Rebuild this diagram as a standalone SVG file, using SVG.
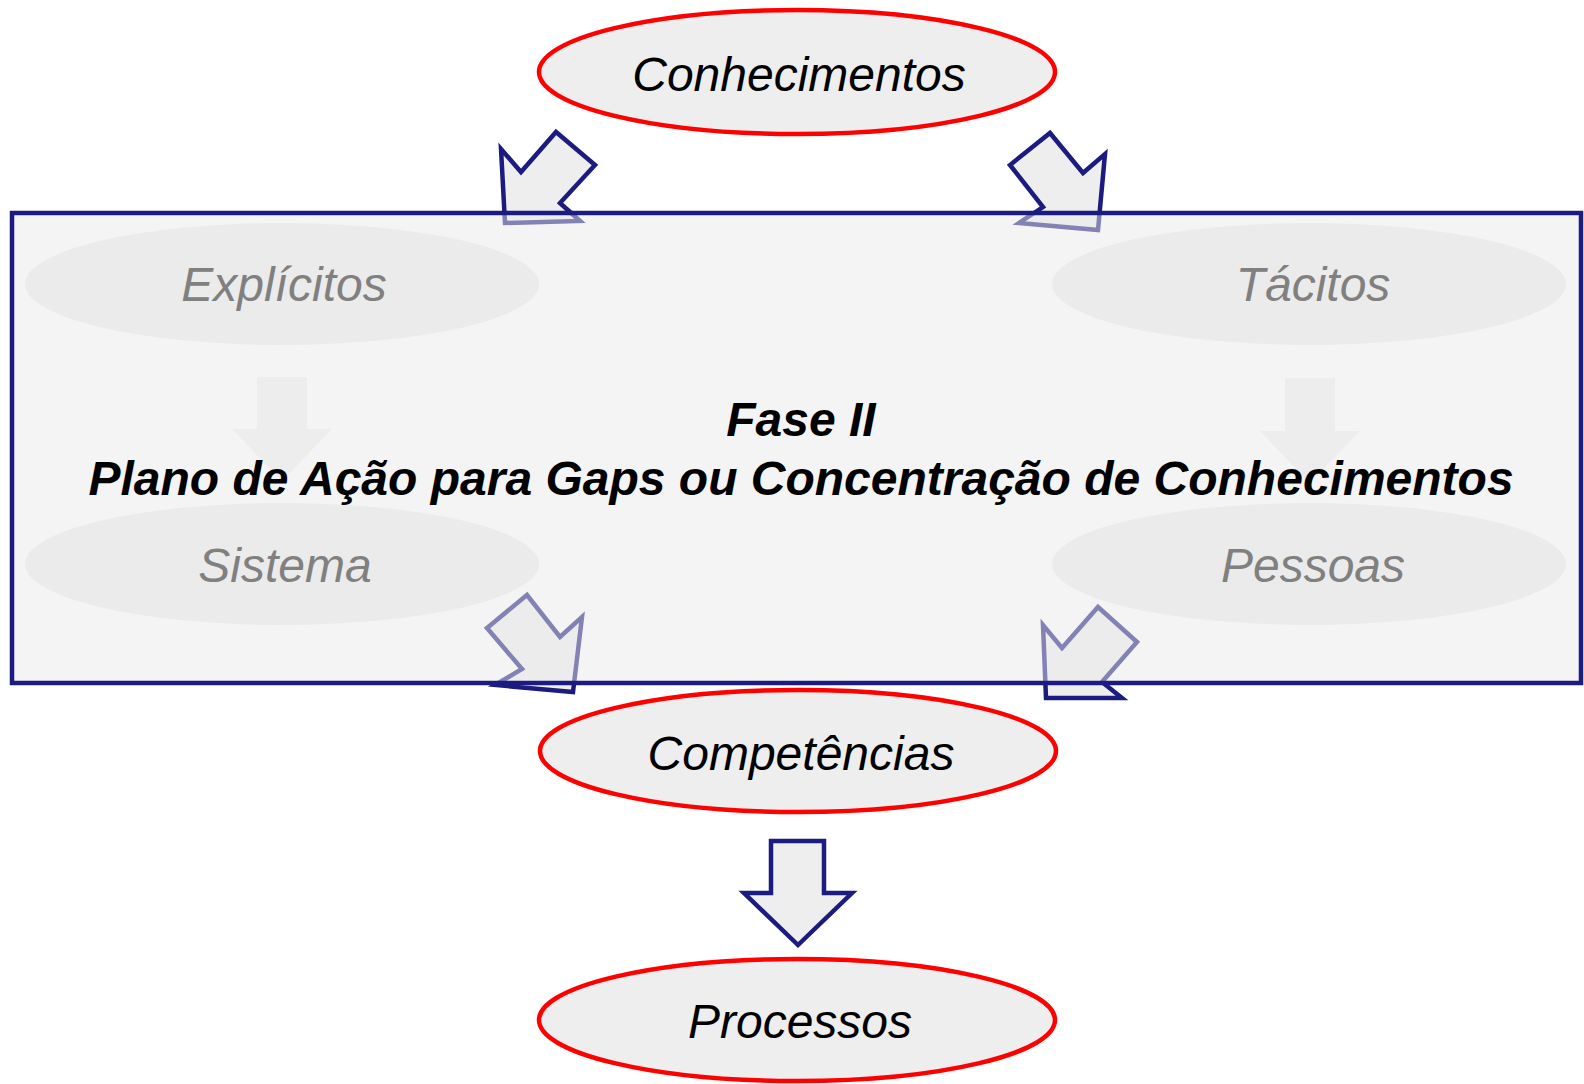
<svg xmlns="http://www.w3.org/2000/svg" width="1584" height="1084" viewBox="0 0 1584 1084">
<style>
.main{fill:#eeeeee;stroke:#ff0000;stroke-width:4.5}
.lbl{font-family:"Liberation Sans",Arial,sans-serif;font-style:italic;font-size:48px;text-anchor:middle;fill:#000}
.inner{fill:#ebebeb}
.ilbl{font-family:"Liberation Sans",Arial,sans-serif;font-style:italic;font-size:48px;text-anchor:middle;fill:#808080}
.arr{fill:#eeeeee;stroke:#1b1b80;stroke-width:4.5;stroke-linejoin:miter}
.farr{fill:#ededed}
.title{font-family:"Liberation Sans",Arial,sans-serif;font-style:italic;font-weight:bold;font-size:48px;text-anchor:middle;fill:#000}
</style>
<rect width="1584" height="1084" fill="#ffffff"/>
<g id="connectors">
<polygon class="arr" points="505,223 501,149 521,172 556,132 595,165 560,203 580,221"/>
<polygon class="arr" points="1098,230 1105,154 1083,173 1050,133 1010,165 1043,207 1019,223"/>
<polygon class="arr" points="573,692 582,617 560,637 527,595 487,628 522,669 495,685"/>
<polygon class="arr" points="1046,698 1043,625 1062,648 1098,607 1137,642 1102,682 1122,698"/>
</g>
<g id="box">
<rect x="12" y="213" width="1569" height="470" fill="#eaeaea" fill-opacity="0.5" stroke="#1b1b80" stroke-width="4.5"/>
</g>
<g id="inner-arrows">
<polygon class="farr" points="257,377 307,377 307,429 332,429 282,481 232,429 257,429"/>
<polygon class="farr" points="1285,378 1335,378 1335,431 1360,431 1310,483 1260,431 1285,431"/>
</g>
<g id="explicitos">
<ellipse class="inner" cx="282" cy="284" rx="257" ry="61"/>
<text class="ilbl" x="284" y="301">Explícitos</text>
</g>
<g id="tacitos">
<ellipse class="inner" cx="1309" cy="284" rx="257" ry="61"/>
<text class="ilbl" x="1313" y="301">Tácitos</text>
</g>
<g id="sistema">
<ellipse class="inner" cx="282" cy="564" rx="257" ry="61"/>
<text class="ilbl" x="285" y="582">Sistema</text>
</g>
<g id="pessoas">
<ellipse class="inner" cx="1309" cy="564" rx="257" ry="61"/>
<text class="ilbl" x="1313" y="582">Pessoas</text>
</g>
<g id="fase">
<text class="title" x="801" y="436">Fase II</text>
<text class="title" x="801" y="495">Plano de Ação para Gaps ou Concentração de Conhecimentos</text>
</g>
<g id="conhecimentos">
<ellipse class="main" cx="797" cy="72" rx="258" ry="62"/>
<text class="lbl" x="799" y="91">Conhecimentos</text>
</g>
<g id="competencias">
<ellipse class="main" cx="798" cy="751" rx="258" ry="61"/>
<text class="lbl" x="801" y="770">Competências</text>
</g>
<g id="down-arrow">
<polygon class="arr" points="771,841 824,841 824,893 852,893 798,945 744,893 771,893"/>
</g>
<g id="processos">
<ellipse class="main" cx="797" cy="1020" rx="258" ry="61"/>
<text class="lbl" x="800" y="1038">Processos</text>
</g>
</svg>
